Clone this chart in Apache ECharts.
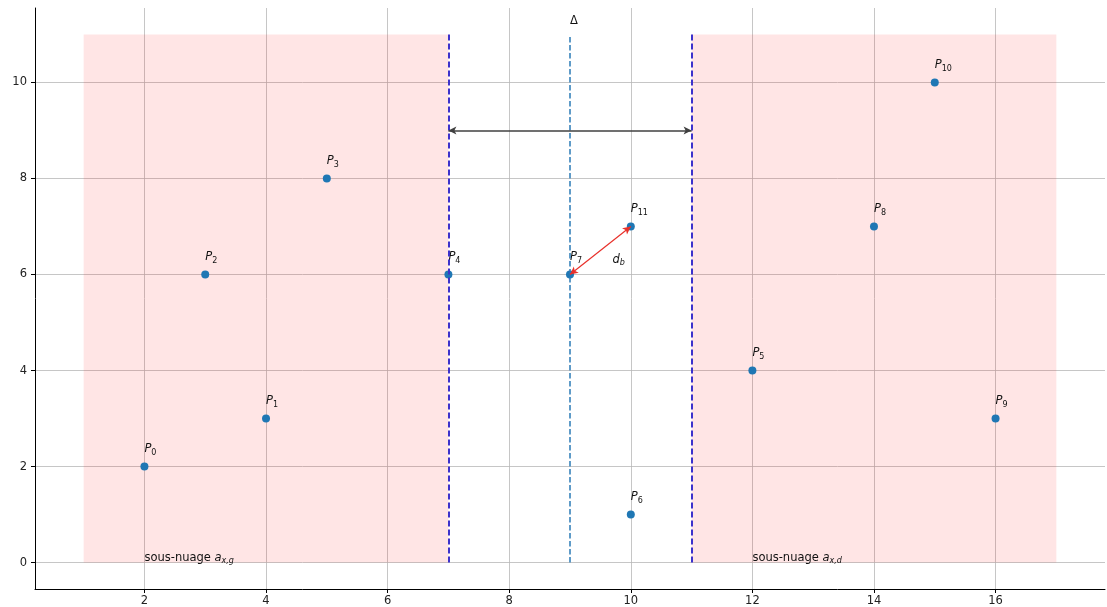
<!DOCTYPE html>
<html>
<head>
<meta charset="utf-8">
<script src="https://cdn.jsdelivr.net/npm/echarts@6/dist/echarts.min.js"></script>
<style>
  html, body { margin: 0; padding: 0; background: #fff; }
  #chart { width: 1107px; height: 607px; }
</style>
</head>
<body>
<div id="chart"></div>
<script>
// points P0..P11
const pointsX = [2, 4, 3, 5, 7, 12, 10, 9, 14, 16, 15, 10];
const pointsY = [2, 3, 6, 8, 6, 4, 1, 6, 7, 3, 10, 7];

// sous-nuages (shaded bands) and separators
const bands = [[1, 7], [11, 17]];
const bandTop = 11;
const sepX = [7, 11];
const midX = 9;

// arrows
const deltaArrow = [[7, 9], [11, 9]];
const dbArrow = [[9, 6], [10, 7]];

// text annotations [x, y, rich text]
const notes = [
    [9, 11.2, '{n|Δ}'],
    [9.7, 6.2, '{i|d}{s|b}'],
    [2, 0, '{n|sous-nuage }{i|a}{s|x,g}'],
    [12, 0, '{n|sous-nuage }{i|a}{s|x,d}']
];

const xTicks = [2, 4, 6, 8, 10, 12, 14, 16];
const yTicks = [0, 2, 4, 6, 8, 10];

const font = 'DejaVu Sans';
const rich = {
    n: { fontFamily: font, fontSize: 11.5, color: '#111' },
    i: { fontFamily: font, fontSize: 11.5, fontStyle: 'italic', color: '#111' },
    s: { fontFamily: font, fontSize: 8, fontStyle: 'italic', color: '#111', padding: [7, 0, 0, 0] },
    d: { fontFamily: font, fontSize: 8, color: '#111', padding: [7, 0, 0, 0] }
};

const chart = echarts.init(document.getElementById('chart'));

const axisCommon = {
    type: 'value',
    axisLine: { show: true, onZero: false, lineStyle: { color: '#000', width: 1 } },
    axisTick: { show: true, length: 4, lineStyle: { color: '#000' } },
    axisLabel: { fontFamily: font, fontSize: 11.5, color: '#222' },
    splitLine: { show: true, lineStyle: { color: '#b8b8b8', width: 0.8 } }
};

const labelBase = {
    show: true,
    align: 'left',
    verticalAlign: 'bottom',
    color: '#111',
    textBorderWidth: 0,
    rich: rich
};

const option = {
    animation: false,
    grid: { left: 35, right: 2, top: 8, bottom: 18, containLabel: false },
    xAxis: Object.assign({}, axisCommon, {
        min: 0.2, max: 17.8,
        axisTick: Object.assign({}, axisCommon.axisTick, { customValues: xTicks }),
        axisLabel: Object.assign({}, axisCommon.axisLabel, { customValues: xTicks, margin: 6 })
    }),
    yAxis: Object.assign({}, axisCommon, {
        min: -0.55, max: 11.55,
        axisTick: Object.assign({}, axisCommon.axisTick, { customValues: yTicks }),
        axisLabel: Object.assign({}, axisCommon.axisLabel, { customValues: yTicks, margin: 8 })
    }),
    series: [
        {
            // bands + lines
            type: 'scatter',
            data: [],
            z: 1,
            markArea: {
                silent: true,
                itemStyle: { color: 'rgba(255,0,0,0.1)' },
                data: bands.map(b => [{ coord: [b[0], 0] }, { coord: [b[1], bandTop] }])
            },
            markLine: {
                silent: true,
                symbol: ['none', 'none'],
                label: { show: false },
                data: sepX.map(x => [
                    { coord: [x, 0], lineStyle: { color: '#3c32cc', width: 2, type: [6, 3] } },
                    { coord: [x, bandTop] }
                ]).concat([[
                    { coord: [midX, 0], lineStyle: { color: '#2b7bb6', width: 1.5, type: [5.5, 2.5] } },
                    { coord: [midX, bandTop] }
                ]])
            }
        },
        {
            type: 'scatter',
            data: [],
            z: 3,
            markLine: {
                silent: true,
                symbol: ['arrow', 'arrow'],
                symbolSize: [6, 8],
                label: { show: false },
                data: [
                    [
                        { coord: deltaArrow[0], lineStyle: { color: '#404040', width: 1.5, type: 'solid' } },
                        { coord: deltaArrow[1] }
                    ],
                    [
                        { coord: dbArrow[0], lineStyle: { color: '#e8302a', width: 1.2, type: 'solid' } },
                        { coord: dbArrow[1] }
                    ]
                ]
            }
        },
        {
            type: 'scatter',
            z: 4,
            symbolSize: 8,
            itemStyle: { color: '#1f77b4', opacity: 1 },
            data: pointsX.map((x, i) => [x, pointsY[i]]),
            label: Object.assign({}, labelBase, {
                position: 'inside',
                offset: [0, -10],
                formatter: p => '{i|P}{d|' + p.dataIndex + '}'
            })
        },
        {
            type: 'scatter',
            z: 5,
            symbolSize: 1,
            itemStyle: { color: 'rgba(255,255,255,0)', opacity: 1 },
            data: notes.map(n => [n[0], n[1]]),
            label: Object.assign({}, labelBase, {
                position: 'top',
                distance: 0,
                offset: [0, 3],
                formatter: p => notes[p.dataIndex][2]
            })
        }
    ]
};

chart.setOption(option);
</script>
</body>
</html>
